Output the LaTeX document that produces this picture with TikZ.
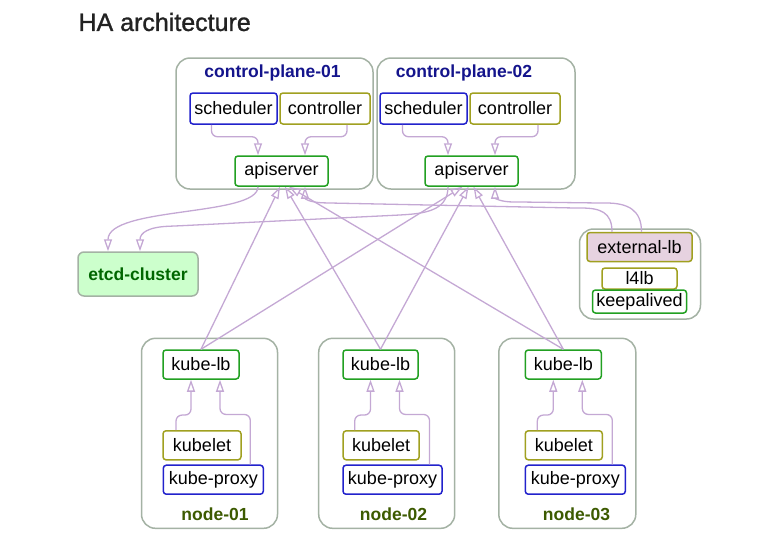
\documentclass[tikz,border=0pt]{standalone}
\usepackage{fontspec}
\setmainfont{Liberation Sans}
\newfontfamily\titlefont[FakeBold=1.2]{Liberation Sans}
\usetikzlibrary{arrows.meta}

\definecolor{grpline}{RGB}{164,178,164}
\definecolor{boxblue}{RGB}{34,34,204}
\definecolor{boxolive}{RGB}{160,160,32}
\definecolor{boxgreen}{RGB}{34,160,34}
\definecolor{edgecol}{RGB}{196,168,212}
\definecolor{cpblue}{RGB}{20,20,140}
\definecolor{ndgreen}{RGB}{60,90,0}
\definecolor{etcdfill}{RGB}{204,255,204}
\definecolor{etcdtxt}{RGB}{0,102,0}
\definecolor{lbfill}{RGB}{230,210,224}
\definecolor{titlecol}{RGB}{34,34,34}

\tikzset{
    grp/.style={draw=grpline, line width=1.5pt, rounded corners=14pt, fill=white},
    box/.style={draw, fill=white, line width=1.5pt, rounded corners=3pt, inner sep=0pt,
        minimum height=29pt, font=\fontsize{18}{21}\selectfont},
    bluebox/.style={box, draw=boxblue},
    olivebox/.style={box, draw=boxolive},
    greenbox/.style={box, draw=boxgreen},
    edge/.style={draw=edgecol, line width=1.3pt, rounded corners=6pt,
        -{Triangle[open, length=12pt, width=8pt]}},
    cplabel/.style={font=\bfseries\fontsize{17.5}{20}\selectfont, text=cpblue},
    ndlabel/.style={font=\bfseries\fontsize{17.5}{20}\selectfont, text=ndgreen}
}

\begin{document}
\begin{tikzpicture}[x=1pt, y=-1pt]
    \useasboundingbox (0,0) rectangle (778,542);

    % Title
    \node[anchor=west, text=titlecol, font=\titlefont\fontsize{25}{30}\selectfont] (title) at (75,22) {HA architecture};

    % Clusters
    \node[grp, minimum width=197pt, minimum height=131pt] (cp1) at (274.5,123.5) {};
    \node[grp, minimum width=198pt, minimum height=131pt] (cp2) at (476,123.5) {};
    \node[grp, minimum width=121pt, minimum height=90pt] (lbgrp) at (640,274) {};
    \node[grp, minimum width=136pt, minimum height=190pt] (n1) at (209.5,433.3) {};
    \node[grp, minimum width=136pt, minimum height=190pt] (n2) at (386.7,433.3) {};
    \node[grp, minimum width=137pt, minimum height=190pt] (n3) at (567.3,433.3) {};

    \node[cplabel] (cp1lbl) at (272.5,73) {control-plane-01};
    \node[cplabel] (cp2lbl) at (464,73) {control-plane-02};
    \node[ndlabel] (n1lbl) at (215,514) {node-01};
    \node[ndlabel] (n2lbl) at (393.5,514) {node-02};
    \node[ndlabel] (n3lbl) at (576.5,514) {node-03};

    % Nodes with manual coordinates
    \node[bluebox, minimum width=87pt, minimum height=31pt] (sched1) at (233.5,108.5) {scheduler};
    \node[olivebox, minimum width=90pt, minimum height=31pt] (ctrl1) at (325,108.5) {controller};
    \node[greenbox, minimum width=93pt, minimum height=30pt] (api1) at (281.5,171) {apiserver};
    \node[bluebox, minimum width=87pt, minimum height=31pt] (sched2) at (423.5,108.5) {scheduler};
    \node[olivebox, minimum width=90pt, minimum height=31pt] (ctrl2) at (515,108.5) {controller};
    \node[greenbox, minimum width=93pt, minimum height=30pt] (api2) at (471.5,171) {apiserver};

    \node[box, draw=grpline, fill=etcdfill, rounded corners=6pt, minimum width=120pt, minimum height=44pt,
        text=etcdtxt, font=\bfseries\fontsize{17.5}{20}\selectfont] (etcd) at (138,274) {etcd-cluster};

    \node[olivebox, fill=lbfill, minimum width=105pt] (extlb) at (639.5,247) {external-lb};
    \node[olivebox, minimum width=75pt, minimum height=21pt] (l4lb) at (639.5,278.5) {l4lb};
    \node[greenbox, minimum width=94pt, minimum height=23pt] (keepalived) at (639.5,301.5) {keepalived};

    \node[greenbox, minimum width=76pt] (kubelb1) at (201,364.5) {kube-lb};
    \node[olivebox, minimum width=78pt] (kubelet1) at (202,445.3) {kubelet};
    \node[bluebox, minimum width=100pt] (kproxy1) at (213.3,479.7) {kube-proxy};
    \node[greenbox, minimum width=75pt] (kubelb2) at (380.5,364.5) {kube-lb};
    \node[olivebox, minimum width=76pt] (kubelet2) at (381.2,445.3) {kubelet};
    \node[bluebox, minimum width=99pt] (kproxy2) at (392.5,479.7) {kube-proxy};
    \node[greenbox, minimum width=76pt] (kubelb3) at (563.3,364.5) {kube-lb};
    \node[olivebox, minimum width=77pt] (kubelet3) at (563.8,445.3) {kubelet};
    \node[bluebox, minimum width=100pt] (kproxy3) at (575.3,479.7) {kube-proxy};

    % Edges
    \draw[edge] ([xshift=-22pt]sched1.south) -- ++(0,12) -| ([xshift=-23.5pt]api1.north);
    \draw[edge] ([xshift=22pt]ctrl1.south) -- ++(0,12) -| ([xshift=23.5pt]api1.north);
    \draw[edge] ([xshift=-21pt]sched2.south) -- ++(0,12) -| ([xshift=-23.5pt]api2.north);
    \draw[edge] ([xshift=23pt]ctrl2.south) -- ++(0,12) -| ([xshift=23.5pt]api2.north);

    \draw[edge] ([xshift=-23.5pt]api1.south) .. controls +(0,30) and +(0,-45) .. ([xshift=-30pt]etcd.north);
    \draw[edge] ([xshift=-23.5pt]api2.south) .. controls (448,208) and (430,213) .. (400,215)
        -- (175,226) .. controls (148,227) and (140,233) .. ([xshift=2pt]etcd.north);

    \draw[edge] ([xshift=-27.5pt]extlb.north) .. controls (612,212) and (600,208) .. (575,208)
        -- (330,203) .. controls (310,202.5) and (305,199) .. ([xshift=23.5pt]api1.south);
    \draw[edge] ([xshift=2pt]extlb.north) .. controls (641.5,210) and (628,203) .. (600,203)
        -- (520,202) .. controls (500,202) and (495,198) .. ([xshift=23.5pt]api2.south);

    \draw[edge] (kubelb1.north) -- ([xshift=-1.5pt]api1.south);
    \draw[edge] (kubelb2.north) -- ([xshift=3.5pt]api1.south);
    \draw[edge] (kubelb3.north) -- ([xshift=7.5pt]api1.south);
    \draw[edge] (kubelb1.north) -- ([xshift=-9pt]api2.south);
    \draw[edge] (kubelb2.north) -- ([xshift=-3pt]api2.south);
    \draw[edge] (kubelb3.north) -- ([xshift=2pt]api2.south);

    \draw[edge] ([xshift=-26pt]kubelet1.north) -- ++(0,-15) -| ([xshift=-10pt]kubelb1.south);
    \draw[edge] ([xshift=37pt]kproxy1.north) -- ++(0,-50) -| ([xshift=19pt]kubelb1.south);
    \draw[edge] ([xshift=-26.5pt]kubelet2.north) -- ++(0,-15) -| ([xshift=-10pt]kubelb2.south);
    \draw[edge] ([xshift=37pt]kproxy2.north) -- ++(0,-50) -| ([xshift=19pt]kubelb2.south);
    \draw[edge] ([xshift=-26.5pt]kubelet3.north) -- ++(0,-15) -| ([xshift=-10pt]kubelb3.south);
    \draw[edge] ([xshift=37pt]kproxy3.north) -- ++(0,-50) -| ([xshift=19pt]kubelb3.south);
\end{tikzpicture}
\end{document}
